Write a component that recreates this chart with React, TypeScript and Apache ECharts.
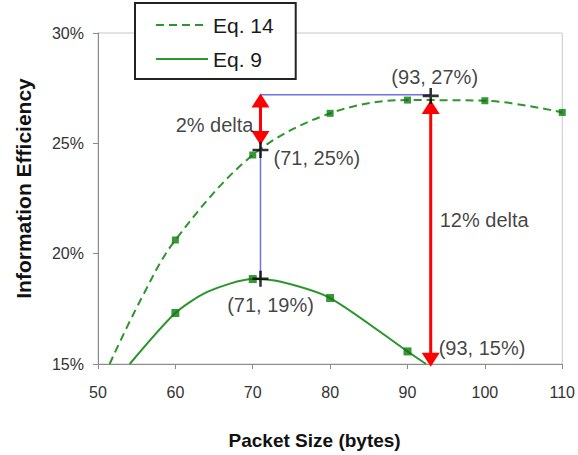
import React, { useEffect, useRef } from "react";
import * as echarts from "echarts";

// Packet size (bytes) for the sampled points
const sizes = [60, 70, 80, 90, 100, 110];
// Eq. 14 (dashed) information efficiency, %
const eq14Values = [20.62, 24.47, 26.36, 26.96, 26.93, 26.4];
// Eq. 9 (solid) information efficiency, %
const eq9Sizes = [60, 70, 80, 90];
const eq9Values = [17.31, 18.85, 17.99, 15.57];
// Points (incl. where they leave the plot)
const eq14Curve = [
  [51.5, 15.0], [55.5, 17.9], [60, 20.62], [70, 24.47], [80, 26.36],
  [90, 26.96], [100, 26.93], [110, 26.4],
];
const eq9Curve = [
  [54.1, 15.0], [60, 17.31], [64.2, 18.28], [70, 18.85], [73.5, 18.74],
  [80, 17.99], [90, 15.57], [92.4, 15.0],
];
// Highlighted optimum points
const crossPoints = [[71, 24.7], [71, 18.86], [93, 27.15]];
const crossLabels = ["(71, 25%)", "(71, 19%)", "(93, 27%)"];
// Blue guide path
const guidePath = [[71, 18.86], [71, 27.2], [93, 27.2]];
// Red delta arrows: [x, from, to]
const arrows = [[71, 24.92, 27.26], [93, 26.96, 14.88]];
const deltaTexts = ["2% delta", "12% delta", "(93, 15%)"];
const deltaAnchors = [[71, 25.83], [93, 21.53], [93, 15.74]];

const xTicks = { min: 50, max: 110, interval: 10 };
const yTicks = { min: 15, max: 30, interval: 5 };

const FONT = "'Liberation Sans', Arial, sans-serif";

export default function App() {
  const ref = useRef<HTMLDivElement>(null);
  useEffect(() => {
    if (!ref.current) return;
    const chart = echarts.init(ref.current, null, { renderer: "svg" });
    const lineGreen = "#2b962b";
    const markGreen = "#0a7a0a";
    const crossPath =
      "path://M6.5,0 L9,0 L9,6.5 L15.5,6.5 L15.5,9 L9,9 L9,15.5 L6.5,15.5 L6.5,9 L0,9 L0,6.5 L6.5,6.5 Z";

    const crossLabelCfg = [
      { position: "right", offset: [0, 8] },
      { position: "bottom", offset: [10, 3] },
      { position: "top", offset: [4, 4] },
    ];
    const deltaLabelCfg = [
      { position: "left", distance: 7, offset: [0, 0] },
      { position: "right", distance: 9, offset: [0, 0] },
      { position: "right", distance: 8, offset: [0, 0] },
    ];

    const option: any = {
      animation: false,
      backgroundColor: "#ffffff",
      textStyle: { fontFamily: FONT },
      grid: {
        left: 98,
        right: 15,
        top: 33,
        bottom: 91,
        show: true,
        borderColor: "#c8c8c8",
        borderWidth: 1,
      },
      legend: {
        data: ["Eq. 14", "Eq. 9"],
        orient: "vertical",
        left: 135,
        top: 3,
        itemWidth: 52,
        itemHeight: 14,
        itemGap: 10,
        padding: [10, 22, 8, 20],
        borderColor: "#222",
        borderWidth: 2,
        backgroundColor: "#fff",
        itemStyle: { opacity: 0 },
        textStyle: {
          fontSize: 21,
          color: "#1a1a1a",
          fontFamily: FONT,
          lineHeight: 24,
        },
        selectedMode: false,
      },
      xAxis: {
        type: "value",
        ...xTicks,
        name: "Packet Size (bytes)",
        nameLocation: "middle",
        nameGap: 67,
        nameTextStyle: {
          fontSize: 19,
          fontWeight: "bold",
          color: "#111",
          fontFamily: FONT,
          padding: [0, 31, 0, 0],
        },
        axisLine: { lineStyle: { color: "#8c8c8c", width: 1 } },
        axisTick: { show: true, length: 5, lineStyle: { color: "#8c8c8c" } },
        axisLabel: { fontSize: 16, color: "#333", margin: 20, fontFamily: FONT },
        splitLine: { show: false },
      },
      yAxis: {
        type: "value",
        ...yTicks,
        name: "Information Efficiency",
        nameLocation: "middle",
        nameGap: 64,
        nameTextStyle: {
          fontSize: 21,
          fontWeight: "bold",
          color: "#111",
          fontFamily: FONT,
          padding: [0, 0, 0, 20],
        },
        axisLine: { show: true, lineStyle: { color: "#8c8c8c", width: 1 } },
        axisTick: { show: true, length: 5, lineStyle: { color: "#8c8c8c" } },
        axisLabel: {
          fontSize: 16,
          color: "#333",
          margin: 14,
          fontFamily: FONT,
          formatter: "{value}%",
        },
        splitLine: { show: false },
      },
      series: [
        {
          name: "Eq. 14",
          type: "line",
          data: eq14Curve,
          smooth: 0.35,
          symbol: "none",
          lineStyle: { color: lineGreen, width: 2, type: [8, 5] },
          itemStyle: { color: "rgba(0,0,0,0)" },
          z: 2,
        },
        {
          name: "Eq. 9",
          type: "line",
          data: eq9Curve,
          smooth: 0.25,
          symbol: "none",
          lineStyle: { color: lineGreen, width: 2, type: "solid" },
          itemStyle: { color: "rgba(0,0,0,0)" },
          z: 2,
        },
        {
          name: "eq14-points",
          type: "scatter",
          data: sizes.map((s, i) => [s, eq14Values[i]]),
          symbol: "rect",
          symbolSize: 7,
          itemStyle: { color: markGreen },
          z: 3,
        },
        {
          name: "eq9-points",
          type: "scatter",
          data: eq9Sizes.map((s, i) => [s, eq9Values[i]]),
          symbol: "rect",
          symbolSize: 8,
          itemStyle: { color: markGreen },
          z: 3,
        },
        {
          name: "guide",
          type: "line",
          data: guidePath,
          symbol: "none",
          lineStyle: { color: "#6f6fe6", width: 1.5 },
          z: 4,
        },
        {
          name: "arrows",
          type: "custom",
          coordinateSystem: "cartesian2d",
          data: arrows,
          encode: { x: 0, y: [1, 2] },
          clip: false,
          z: 5,
          renderItem: (params: any, api: any) => {
            const x = api.value(0);
            const a = api.coord([x, api.value(1)]);
            const b = api.coord([x, api.value(2)]);
            const hw = 9;
            const hh = 14;
            const dir = b[1] > a[1] ? 1 : -1;
            return {
              type: "group",
              children: [
                {
                  type: "line",
                  shape: {
                    x1: a[0],
                    y1: a[1] + dir * (hh - 1),
                    x2: b[0],
                    y2: b[1] - dir * (hh - 1),
                  },
                  style: { stroke: "#ff0000", lineWidth: 3 },
                },
                {
                  type: "polygon",
                  shape: {
                    points: [
                      [a[0], a[1]],
                      [a[0] - hw, a[1] + dir * hh],
                      [a[0] + hw, a[1] + dir * hh],
                    ],
                  },
                  style: { fill: "#ff0000" },
                },
                {
                  type: "polygon",
                  shape: {
                    points: [
                      [b[0], b[1]],
                      [b[0] - hw, b[1] - dir * hh],
                      [b[0] + hw, b[1] - dir * hh],
                    ],
                  },
                  style: { fill: "#ff0000" },
                },
              ],
            };
          },
        },
        {
          name: "crosses",
          type: "scatter",
          symbol: crossPath,
          symbolSize: 16,
          itemStyle: { color: "#000" },
          z: 6,
          data: crossPoints.map((p, i) => ({
            value: p,
            label: {
              show: true,
              formatter: crossLabels[i],
              fontSize: 20,
              color: "#111",
              fontFamily: FONT,
              ...crossLabelCfg[i],
            },
          })),
        },
        {
          name: "delta-labels",
          type: "scatter",
          symbolSize: 0,
          itemStyle: { color: "transparent" },
          z: 6,
          data: deltaAnchors.map((p, i) => ({
            value: p,
            label: {
              show: true,
              formatter: deltaTexts[i],
              fontSize: 20,
              color: "#111",
              fontFamily: FONT,
              ...deltaLabelCfg[i],
            },
          })),
        },
      ],
    };
    chart.setOption(option);
    return () => chart.dispose();
  }, []);
  return (
    <div
      ref={ref}
      style={{ position: "fixed", left: 0, top: 0, width: 578, height: 455 }}
    />
  );
}
